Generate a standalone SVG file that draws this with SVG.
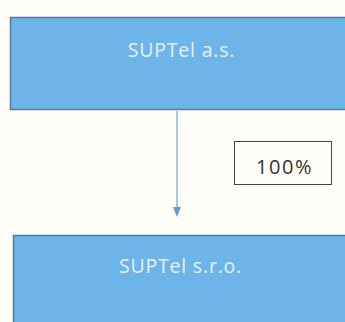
<svg xmlns="http://www.w3.org/2000/svg" width="345" height="322" viewBox="0 0 345 322">
<defs>
<style>
.box{fill:#6db4e9;stroke:#4d7ea6;stroke-width:1.5}
.lbl{font-family:"Open Sans","Liberation Sans",sans-serif;font-size:19.5px;letter-spacing:0.8px;fill:#e6f1fa;text-anchor:middle}
.pct{font-family:"Open Sans","Liberation Sans",sans-serif;font-size:20px;letter-spacing:1.5px;fill:#333;text-anchor:middle}
</style>
<marker id="ah" markerWidth="10" markerHeight="10" refX="5" refY="5" orient="auto" markerUnits="userSpaceOnUse">
<path d="M0,1 L10,5 L0,9 Z" fill="#6a9cc8"/>
</marker>
</defs>
<rect width="345" height="322" fill="#fffdf8"/>
<g id="connectors">
<line x1="177" y1="111" x2="177" y2="212" stroke="#7aaad2" stroke-width="1.3" marker-end="url(#ah)"/>
</g>
<g id="node-top">
<rect class="box" x="10.5" y="17.5" width="340" height="92"/>
<text class="lbl" x="181.5" y="57">SUPTel a.s.</text>
</g>
<g id="label-100">
<rect x="234.5" y="141.5" width="97" height="43" fill="#fffefa" stroke="#444" stroke-width="1"/>
<text class="pct" x="284.5" y="174">100%</text>
</g>
<g id="node-bottom">
<rect class="box" x="13.5" y="235.5" width="340" height="100"/>
<text class="lbl" x="180.5" y="273">SUPTel s.r.o.</text>
</g>
</svg>
